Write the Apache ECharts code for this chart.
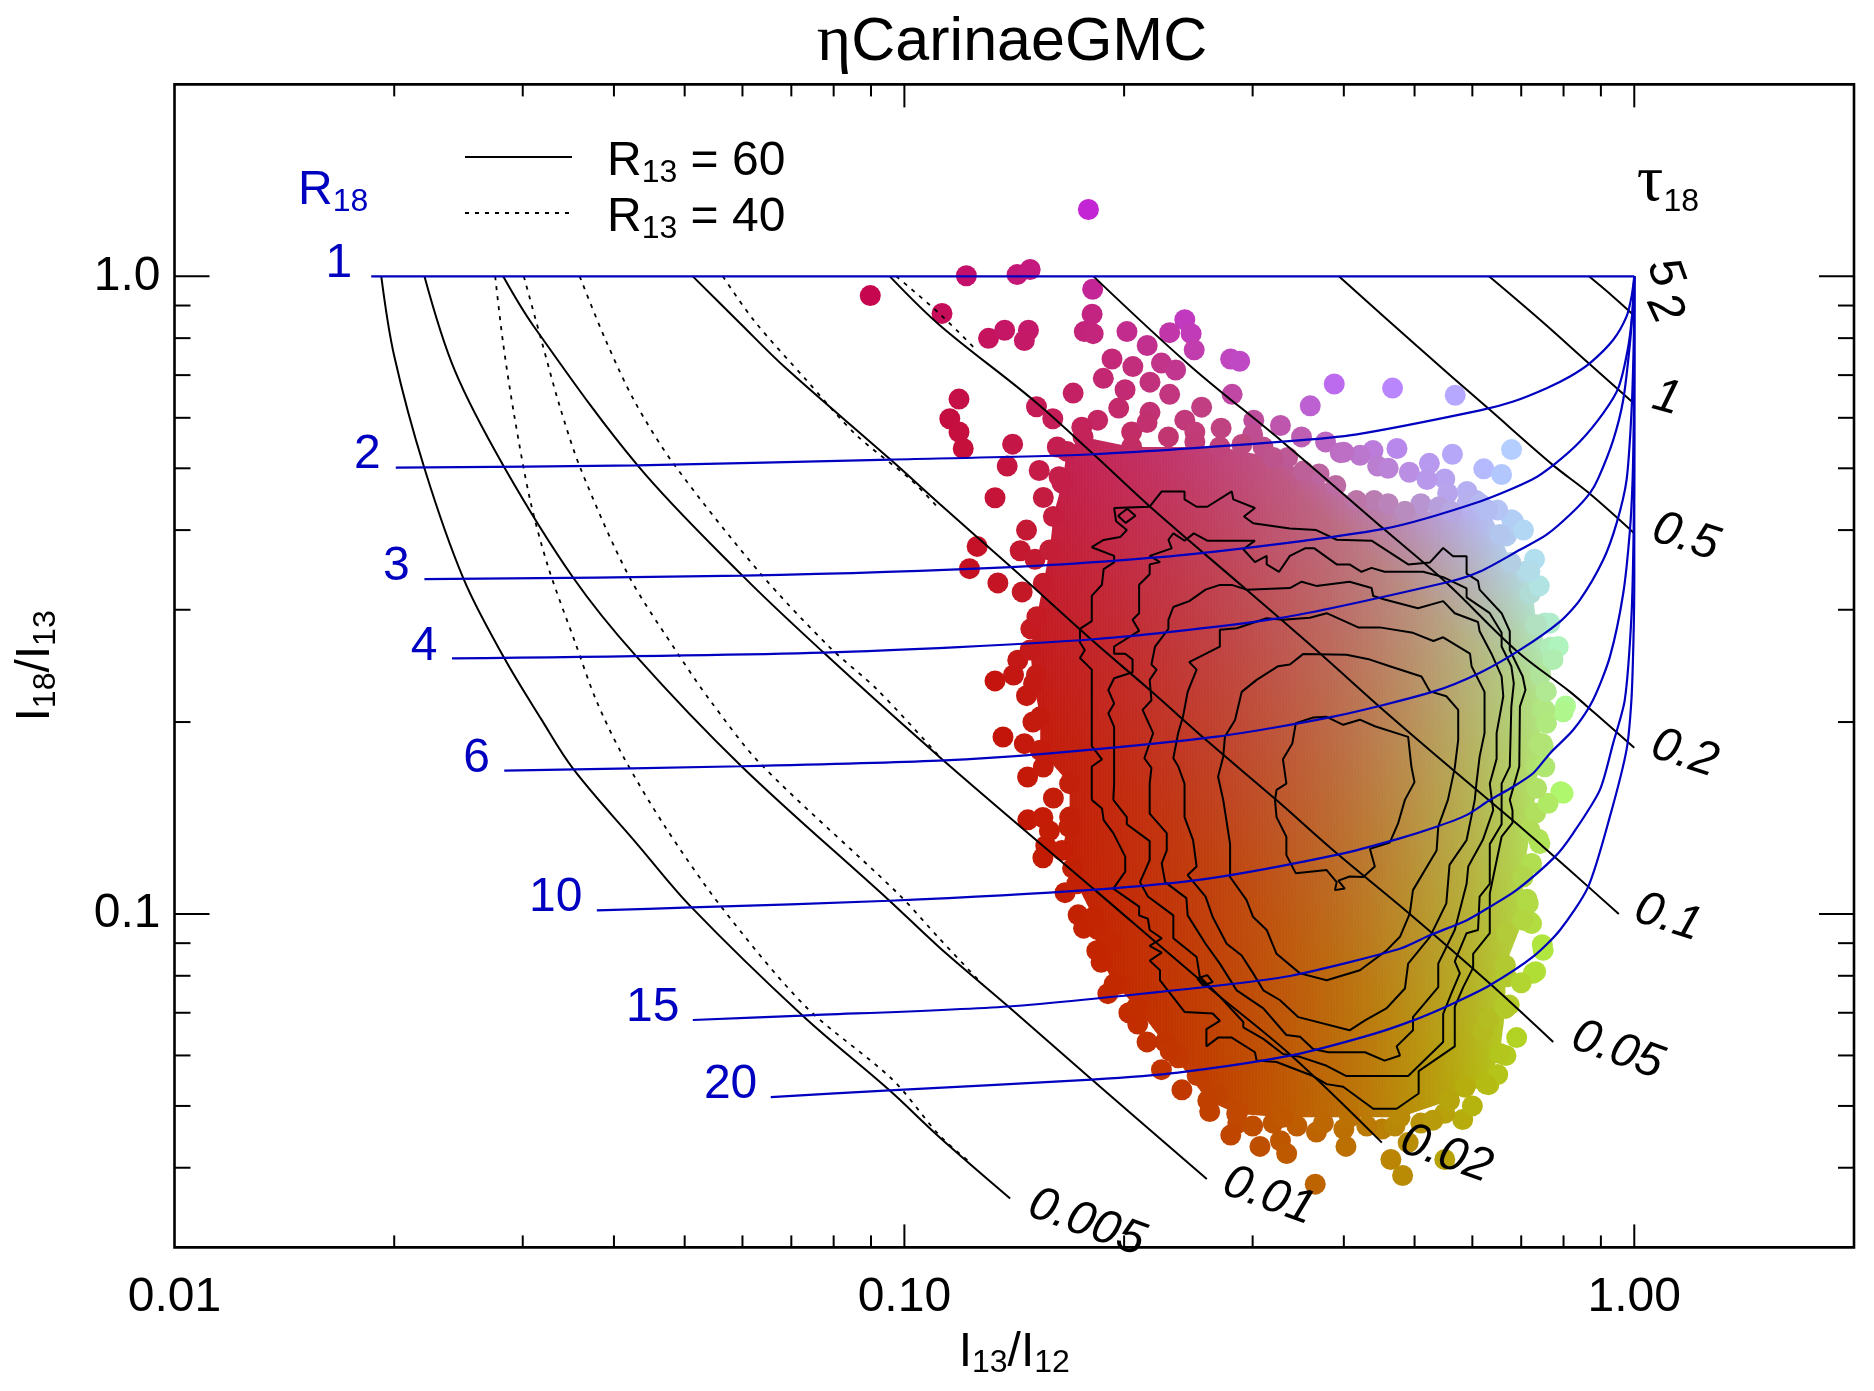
<!DOCTYPE html>
<html>
<head>
<meta charset="utf-8">
<title>eta Carinae GMC</title>
<script src="https://cdn.jsdelivr.net/npm/echarts@6/dist/echarts.min.js"></script>
<style>
body{margin:0;background:#fff;}
#main{width:1874px;height:1391px;}
</style>
</head>
<body>
<div id="main"></div>
<script>
// axis ranges and ticks
var xMin = 0.01, xMax = 2, yMin = 0.03, yMax = 2;
var xMajor = [0.1, 1];
var xMinor = [0.02,0.03,0.04,0.05,0.06,0.07,0.08,0.09,0.2,0.3,0.4,0.5,0.6,0.7,0.8,0.9];
var yMajor = [0.1, 1];
var yMinor = [0.04,0.05,0.06,0.07,0.08,0.09,0.2,0.3,0.4,0.5,0.6,0.7,0.8,0.9];
var xTickLabels = [[0.01,'0.01'],[0.1,'0.10'],[1,'1.00']];
var yTickLabels = [[0.1,'0.1'],[1,'1.0']];

// constant tau18, R13 = 60
var tau005 = [[.0192,1],[.0200,.75],[.0220,.50],[.0249,.335],[.0283,.252],[.0318,.2021],[.0352,.1687],[.0431,.1285],[.0511,.1024],[.0725,.0693],[.0954,.0529],[.1116,.0447],[.1396,.0358]];
var tau01 = [[.0220,1],[.0242,.7125],[.0283,.502],[.0352,.3365],[.0429,.2537],[.0598,.1705],[.0954,.1049],[.1116,.0887],[.1388,.0716],[.1806,.055],[.2596,.0384]];
var tau02 = [[.0282,1],[.031,.8375],[.0431,.5053],[.06,.3393],[.0775,.257],[.1119,.176],[.1823,.1091],[.2605,.0769],[.3388,.06],[.451,.0438]];
var tau05 = [[.0513,1],[.0595,.845],[.0686,.72],[.0957,.516],[.1119,.439],[.14,.350],[.1795,.2706],[.2169,.2245],[.2622,.1852],[.3234,.1509],[.3868,.1259],[.4925,.1],[.6339,.0778],[.7743,.063]];
var tau10 = [[.0955,1],[.1119,.8375],[.1497,.6415],[.1816,.526],[.2169,.4357],[.2943,.3224],[.3708,.2564],[.4529,.2089],[.5646,.1682],[.6896,.1387],[.75,.1275],[.8158,.1171],[.9524,.1]];
var tau20 = [[.1816,1],[.2462,.7244],[.3295,.5505],[.4535,.4018],[.5524,.331],[.692,.2578],[.8158,.2232],[.8835,.2064],[1,.1823]];
var tau50 = [[.3938,1],[.5029,.7787],[.63,.6214],[.7746,.5053],[.8668,.4572],[1,.3953]];
var tau100 = [[.6324,1],[.7461,.8508],[.8668,.7298],[1,.6314]];
var tau200 = [[.8668,1],[.9347,.93],[1,.8675]];

// constant tau18, R13 = 40
var dash005 = [[.0275,1],[.0282,.785],[.0292,.606],[.0307,.4463],[.0325,.3503],[.0354,.2664],[.0378,.2167],[.0411,.1774],[.0469,.1376],[.0562,.1024],[.0732,.0716],[.0963,.055],[.1116,.045],[.122,.0411]];
var dash01 = [[.0301,1],[.0319,.785],[.0337,.6264],[.036,.4996],[.0419,.3393],[.0492,.2537],[.0541,.2167],[.0635,.172],[.0982,.1074],[.1116,.0916],[.128,.0775]];
var dash02 = [[.0359,1],[.0389,.798],[.0427,.6365],[.0483,.5079],[.0635,.342],[.079,.262],[.0918,.2248],[.112,.176]];
var dash05 = [[.0564,1],[.0623,.851],[.0732,.69],[.0859,.564],[.102,.48],[.1116,.432]];
var dash10 = [[.0975,1],[.1116,.875],[.125,.77]];

// constant R18
var r1 = [[.0186,1],[1,1]];
var r2 = [[.0201,.5012],[.0431,.5053],[.0957,.516],[.1816,.526],[.3295,.5505],[.4169,.5653],[.6147,.6163],[.6827,.6364],[.7584,.6678],[.8164,.6966],[.8695,.731],[.9359,.7954],[.976,.8654],[.9916,.9302],[1,1]];
var r3 = [[.022,.335],[.06,.3393],[.14,.35],[.244,.366],[.4535,.4018],[.6147,.4436],[.7234,.4797],[.7786,.5082],[.8425,.5508],[.9068,.6104],[.9508,.6678],[.9813,.7764],[.9947,.8866],[1,1]];
var r4 = [[.024,.2517],[.0775,.257],[.1816,.2697],[.3263,.291],[.5524,.331],[.6147,.3444],[.6972,.3725],[.7584,.3934],[.825,.4278],[.8695,.4572],[.8928,.4825],[.9359,.5542],[.9658,.6404],[.9865,.7857],[.9968,.9192],[1,1]];
var r6 = [[.0283,.1678],[.0598,.1705],[.1116,.174],[.1582,.1786],[.2677,.1897],[.3868,.2039],[.5303,.2232],[.6147,.239],[.6972,.2595],[.7911,.2875],[.8425,.3109],[.9068,.3593],[.9458,.4102],[.976,.4797],[.9916,.6176],[.9985,.80],[1,1]];
var r10 = [[.0379,.1013],[.0511,.1024],[.0954,.1049],[.1806,.1091],[.2605,.1136],[.3938,.124],[.4774,.1314],[.5358,.137],[.5889,.1429],[.634,.1509],[.6823,.1583],[.7268,.1662],[.7663,.1786],[.8245,.1943],[.878,.2166],[.9261,.2533],[.9658,.3184],[.9865,.4005],[.9947,.4797],[.9985,.6],[1,.75],[1,1]];
var r15 = [[.0513,.0682],[.0725,.0693],[.1388,.0716],[.2605,.0769],[.3388,.08],[.4774,.0882],[.5247,.0926],[.5889,.0977],[.634,.1026],[.6895,.109],[.7783,.1229],[.8245,.1338],[.8969,.1564],[.9354,.1852],[.9705,.2166],[.9916,.2963],[.998,.40],[1,.55],[1,1]];
var r20 = [[.0656,.0516],[.0954,.0529],[.1806,.055],[.2371,.0564],[.3388,.06],[.4327,.0645],[.4979,.0681],[.5648,.0724],[.634,.0773],[.7268,.0857],[.7907,.0943],[.8645,.1103],[.9257,.142],[.9757,.1807],[.991,.2166],[.9975,.27],[1,.3342],[1,1]];

// density contours, inner to outer
var contourF = [[.3219,.1510],[.3235,.1419],[.3337,.1322],[.3337,.1237],[.3438,.1158],[.3789,.1172],[.3911,.1122],[.3890,.1090],[.4012,.1096],[.3931,.1128],[.4073,.1145],[.4253,.1143],[.4411,.1187],[.4344,.1265],[.4624,.1294],[.4750,.1390],[.4850,.1510],[.4999,.1610],[.4950,.1703],[.4900,.1896],[.4411,.1970],[.4208,.2017],[.3992,.1980],[.3789,.2038],[.3634,.2033],[.3438,.1992],[.3400,.1851],[.3301,.1748],[.3337,.1601],[.3235,.1565],[.3219,.1510]];
var contourE = [[.2734,.1510],[.2794,.1287],[.2794,.1143],[.2942,.1052],[.3005,.0989],[.3136,.0944],[.3235,.0866],[.3484,.0807],[.3789,.0787],[.4208,.0816],[.4574,.0876],[.4775,.0921],[.4925,.1001],[.4975,.1090],[.5360,.1258],[.5388,.1371],[.5555,.1510],[.5676,.1695],[.5738,.1875],[.5738,.2090],[.5527,.2195],[.5249,.2234],[.5110,.2358],[.4624,.2447],[.4344,.2506],[.4033,.2550],[.3520,.2558],[.3374,.2462],[.3252,.2447],[.3038,.2329],[.2898,.2230],[.2838,.2015],[.2749,.1898],[.2734,.1765],[.2690,.1642],[.2734,.1510]];
var contourD = [[.2420,.1510],[.2420,.1419],[.2486,.1306],[.2514,.1187],[.2444,.1151],[.2586,.1065],[.2645,.0989],[.2764,.0898],[.2898,.0861],[.3005,.0807],[.3103,.0759],[.3268,.0733],[.3466,.0689],[.4073,.0657],[.4276,.0681],[.4574,.0711],[.4850,.0764],[.4900,.0836],[.5249,.0921],[.5527,.1039],[.5583,.1194],[.5892,.1306],[.6046,.1510],[.6077,.1601],[.6139,.1765],[.6235,.1922],[.6235,.2230],[.5985,.2447],[.5955,.2560],[.5472,.2716],[.5305,.2680],[.4975,.2760],[.4479,.2815],[.4186,.2815],[.3789,.2963],[.3593,.2914],[.3301,.2893],[.3136,.2910],[.2853,.2806],[.2705,.2790],[.2705,.2627],[.2456,.2483],[.2514,.2417],[.2444,.2230],[.2408,.2038],[.2372,.1922],[.2336,.1755],[.2372,.1705],[.2420,.1601],[.2420,.1510]];
var contourC = [[.2168,.1510],[.2168,.1437],[.2288,.1339],[.2288,.1258],[.2252,.1201],[.2276,.1122],[.2434,.1059],[.2444,.0995],[.2586,.0898],[.2705,.0836],[.2853,.0759],[.3103,.0711],[.3337,.0646],[.3484,.0642],[.3630,.0614],[.3809,.0607],[.4276,.0607],[.4549,.0589],[.4775,.0600],[.4725,.0620],[.4975,.0657],[.4975,.0689],[.5388,.0768],[.5388,.0836],[.5676,.0944],[.5892,.1115],[.5923,.1187],[.6201,.1306],[.6408,.1455],[.6339,.1601],[.6477,.1751],[.6477,.1922],[.6615,.2195],[.6580,.2358],[.6373,.2560],[.6139,.2776],[.6108,.2870],[.5676,.2963],[.5472,.3095],[.5054,.3017],[.4549,.3113],[.4389,.3153],[.4366,.3245],[.4073,.3320],[.3667,.3270],[.3502,.3320],[.3374,.3245],[.2942,.3226],[.2809,.3282],[.2705,.3282],[.2586,.3226],[.2456,.3095],[.2336,.3030],[.2300,.2893],[.2300,.2800],[.2205,.2627],[.2180,.2461],[.2216,.2417],[.2168,.2329],[.2180,.2164],[.2120,.2090],[.2192,.1922],[.2132,.1755],[.2180,.1695],[.2168,.1601],[.2168,.1510]];
var contourB = [[.1933,.1510],[.2017,.1419],[.2017,.1383],[.2168,.1301],[.2168,.1215],[.2103,.1122],[.2156,.1065],[.2336,.0995],[.2336,.0916],[.2514,.0856],[.2540,.0797],[.2705,.0742],[.2913,.0677],[.2913,.0664],[.3103,.0637],[.3301,.0603],[.3484,.0597],[.3789,.0578],[.4033,.0557],[.4900,.0557],[.5472,.0630],[.5472,.0697],[.5614,.0750],[.5768,.0807],[.5676,.0843],[.5892,.0933],[.6108,.0944],[.6139,.1065],[.6339,.1115],[.6339,.1287],[.6580,.1383],[.6580,.1601],[.6752,.1703],[.6785,.2115],[.6838,.2299],[.6785,.2447],[.6580,.2627],[.6580,.2760],[.6339,.2963],[.5892,.3138],[.5892,.3240],[.5472,.3375],[.5137,.3441],[.4549,.3441],[.4366,.3490],[.4230,.3441],[.4073,.3534],[.3911,.3534],[.3645,.3745],[.3539,.3745],[.3374,.3645],[.3261,.3441],[.3136,.3534],[.3136,.3645],[.3022,.3563],[.2913,.3733],[.3022,.3850],[.2600,.3850],[.2492,.3953],[.2420,.3850],[.2336,.3953],[.2300,.3863],[.2324,.3745],[.2168,.3645],[.2240,.3563],[.2168,.3534],[.2168,.3410],[.2097,.3284],[.2097,.2963],[.2054,.2893],[.2097,.2780],[.1938,.2627],[.1938,.2560],[.2007,.2560],[.2054,.2506],[.2054,.2394],[.1938,.2343],[.1903,.2245],[.1938,.2139],[.1903,.2064],[.1938,.1965],[.1938,.1601],[.1933,.1510]];
var contourA = [[.1806,.1510],[.1865,.1464],[.1875,.1403],[.1933,.1339],[.2007,.1230],[.2007,.1165],[.1933,.1096],[.2097,.1027],[.2097,.0995],[.2156,.0983],[.2168,.0944],[.2252,.0916],[.2168,.0891],[.2252,.0870],[.2168,.0845],[.2240,.0816],[.2240,.0787],[.2420,.0702],[.2645,.0698],[.2705,.0680],[.2593,.0660],[.2593,.0620],[.2690,.0640],[.2809,.0640],[.3022,.0607],[.3038,.0589],[.3235,.0586],[.3630,.0557],[.3789,.0541],[.3992,.0536],[.4389,.0495],[.4725,.0495],[.5065,.0523],[.5065,.0567],[.5676,.0620],[.5676,.0715],[.5830,.0768],[.6015,.0824],[.6015,.0866],[.6339,.0933],[.6339,.1077],[.6580,.1322],[.6810,.1390],[.6810,.1455],[.6752,.1510],[.6957,.1703],[.6971,.2115],[.7094,.2245],[.7033,.2358],[.6752,.2594],[.6752,.2776],[.6580,.2963],[.6139,.3226],[.6108,.3330],[.5892,.3419],[.5892,.3639],[.5645,.3639],[.5472,.3750],[.5249,.3559],[.4900,.3534],[.4366,.3850],[.3911,.3863],[.3667,.4000],[.3374,.4024],[.3005,.4100],[.2919,.4201],[.3022,.4332],[.2822,.4470],[.2809,.4600],[.2600,.4352],[.2514,.4352],[.2420,.4470],[.2420,.4600],[.2252,.4600],[.2168,.4352],[.1938,.4332],[.1950,.4130],[.2017,.4000],[.1975,.3900],[.1875,.3860],[.1806,.3760],[.1938,.3645],[.1938,.3560],[.1875,.3475],[.1865,.3284],[.1806,.3155],[.1806,.2880],[.1740,.2800],[.1740,.2665],[.1767,.2594],[.1740,.2520],[.1806,.2417],[.1806,.1833],[.1865,.1748],[.1806,.1703],[.1806,.1510]];
var contourIslandTop = [[.1962,.4212],[.2020,.4320],[.2073,.4212],[.2010,.4105],[.1962,.4212]];
var contourIslandLow = [[.2519,.0792],[.2600,.0802],[.2645,.0782],[.2564,.0773],[.2519,.0792]];

// solid part of the point cloud
var blobOutline = [[.1670,.5315],[.1757,.5600],[.2048,.5400],[.2705,.5400],[.3202,.5200],[.3520,.4950],[.4163,.4450],[.4850,.4280],[.5611,.4280],[.6300,.4300],[.6545,.3938],[.6774,.3557],[.7194,.3448],[.7347,.2843],[.7737,.2505],[.7576,.2234],[.7400,.1852],[.7350,.1574],[.7200,.1352],[.7041,.1143],[.7041,.0978],[.6659,.0831],[.6659,.0711],[.6545,.0604],[.6270,.0541],[.5583,.0510],[.4775,.0480],[.4073,.0480],[.3301,.0480],[.2853,.0486],[.2604,.0510],[.2312,.0610],[.2081,.0715],[.1938,.0777],[.1835,.0876],[.1815,.0989],[.1722,.1115],[.1644,.1258],[.1684,.1419],[.1684,.1601],[.1535,.1806],[.1535,.2038],[.1503,.2299],[.1487,.2594],[.1519,.2926],[.1550,.3301],[.1582,.3724],[.1600,.4201],[.1644,.4740]];
// separate points around it
var rimDots = [[.1787,1.273],[.1216,1.002],[.1427,1.0065],[.1487,1.025],[.1811,.9545],[.1808,.872],[.1764,.8192],[.1814,.813],[.1126,.8747],[.0898,.933],[.1304,.7995],[.1372,.823],[.1479,.823],[.146,.793],[.2422,.855],[.2309,.816],[.2471,.813],[.2495,.767],[.2018,.8192],[.2151,.779],[.2799,.742],[.288,.736],[.1925,.742],[.2056,.722],[.225,.731],[.2353,.713],[.1873,.692],[.217,.6825],[.2309,.653],[.1703,.656],[.1188,.642],[.2006,.664],[.1966,.6215],[.1517,.6245],[.1597,.598],[.1154,.598],[.1188,.57],[.1204,.537],[.1407,.5455],[.217,.612],[.2554,.6235],[.2812,.653],[.3881,.678],[.4665,.668],[.5684,.651],[.3598,.6265],[.3011,.595],[.3275,.5835],[.2422,.595],[.2716,.578],[.184,.595],[.2048,.57],[.1383,.504],[.153,.496],[.1629,.485],[.1331,.4495],[.1258,.3771],[.1228,.348],[.1343,.3305],[.1441,.3713],[.3776,.55],[.3955,.529],[.4385,.533],[.473,.537],[.5239,.509],[.5634,.526],[.679,.535],[.622,.499],[.658,.489],[.4918,.493],[.55,.481],[.683,.413],[.739,.3265],[.755,.286],[.768,.262],[.6071,.445],[.555,.457],[.445,.504],[.421,.524],[.668,.3917],[.712,.345],[.7201,.318],[.7326,.2835],[.744,.237],[.1331,.232],[.1411,.237],[.1517,.237],
  [.1365,.1895],[.1475,.164],[.1476,.1405],[.1548,.1417],[.168,.137],[.1562,.128],[.1548,.1225],[.173,.0997],[.184,.0945],[.1917,.09],[.1966,.0776],[.2088,.0672],[.2276,.063],[.2373,.0595],[.2518,.0558],[.269,.0521],[.2863,.049],[.2863,.047],[.307,.0432],[.3275,.0441],[.334,.0421],[.3669,.0455],[.4027,.0432],[.4514,.046],[.464,.0412],[.4815,.0389],[.3655,.0377],[.49,.0438],[.55,.0412],[.582,.0476],[.55,.0487],[.632,.054],[.5863,.0535],[.667,.06],[.62,.0655],[.674,.072],[.632,.0685],[.7326,.0812],[.748,.0895],[.72,.0972],[.713,.1055],[.668,.0932],[.739,.131],[.7932,.1555],[.805,.212],[.748,.21],[.748,.1849],[.7326,.171],[.7326,.144],
  [.799,.2076],[.7541,.2089],[.7581,.1991],[.7502,.183],[.7541,.1702],[.799,.1546],[.762,.1491],[.7424,.129],[.7232,.12],[.7156,.1038],[.7232,.0966],[.7502,.0877],[.7268,.0807],[.668,.0797],[.6645,.0715],[.741,.3271],[.7868,.2627],[.7666,.2858],[.6792,.4151]];
// more points on the left, lower and top edge of the cloud
var edgeDots = [[.155,.45],[.147,.40],[.151,.36],[.145,.32],[.149,.28],[.143,.25],[.147,.22],[.150,.20],[.146,.185],[.155,.17],[.160,.152],[.158,.135],[.170,.118],[.166,.108],[.176,.095],[.186,.084],[.190,.075],[.203,.070],[.215,.063],[.225,.057],[.240,.053],[.262,.049],[.280,.045],[.300,.0465],[.320,.047],[.345,.0465],[.375,.047],[.400,.046],[.430,.0465],[.470,.0465],[.510,.047],[.530,.0475],[.600,.050],[.650,.056],[.690,.064],[.700,.078],[.730,.36],[.705,.40],[.650,.43],[.590,.46],[.520,.48],[.460,.50],[.400,.53],[.350,.56],[.300,.565],[.250,.57],[.215,.59],[.175,.58],[.162,.54],
  [.23,.56],[.25,.55],[.29,.545],[.31,.54],[.335,.52],[.37,.49],[.39,.47],[.44,.445],[.46,.44],[.51,.44],[.54,.435],[.59,.44],[.615,.44]];

// label texts and where they sit
var rLabels = ['1','2','3','4','6','10','15','20'];
var rLabelPos = [[.0168,1.048],[.01838,.525],[.02013,.350],[.02197,.2620],[.02594,.1753],[.03328,.1062],[.0452,.0713],[.0578,.0539]];
var tauLabels = ['5','2','1','0.5','0.2','0.1','0.05','0.02','0.01','0.005'];
var tauLabelPos = [[1.10,1.013],[1.10,.8898],[1.107,.6437],[1.176,.3899],[1.172,.1784],[1.112,.0987],[.9484,.0611],[.5524,.0420],[.3156,.0361],[.1777,.0328]];
var tauLabelAngle = [-70,-65,-15,-18,-18,-18,-20,-20,-20,-20];
var headPos = [[.0165,1.36],[1.112,1.359]];

var FONT = '"Liberation Sans", Arial, sans-serif';
var BLACK = '#000', BLUE = '#0000c0';

// colour of the cloud: green follows x, blue follows x*y, red drops a little with x
var blueLog = [-1.8,-1.5,-1.22,-1,-.8,-.6,-.5,-.3];
var blueVal = [0,15,55,90,130,235,255,255];

function redAt(x){ return Math.round(201-33*x); }
function greenAt(x){ return Math.max(0,Math.min(255,Math.round(340*x-25))); }
function blueAt(lg){
    if(lg<=blueLog[0]) return 0;
    for(var i=1;i<blueLog.length;i++){
        if(lg<=blueLog[i]){
            return Math.round(blueVal[i-1]+(blueVal[i]-blueVal[i-1])*(lg-blueLog[i-1])/(blueLog[i]-blueLog[i-1]));
        }
    }
    return 255;
}
function dotColor(params){
    var v = params.value;
    return 'rgb('+redAt(v[0])+','+greenAt(v[0])+','+blueAt(Math.log10(v[0]*v[1]))+')';
}

// the solid part is painted as thin columns, each with its own vertical colour ramp, clipped to the outline
function renderBlob(params, api){
    if(params.dataIndex !== 0) return;
    var pts = blobOutline.map(function(p){ return api.coord(p); });
    var one = api.coord([1,1]);
    var pxX = one[0]-api.coord([.1,1])[0];
    var pxY = api.coord([1,.1])[1]-one[1];
    var left = api.coord([.14,1])[0], right = api.coord([.82,1])[0];
    var top = api.coord([1,.62])[1], bottom = api.coord([1,.045])[1];
    var step = 3, cols = [];
    var span = blueLog[blueLog.length-1]-blueLog[0];
    for(var px=left;px<right;px+=step){
        var lx = (px+step/2-one[0])/pxX;
        var xv = Math.pow(10,lx);
        var rgb = redAt(xv)+','+greenAt(xv)+',';
        var y0 = one[1]-(blueLog[0]-lx)*pxY;
        var y1 = one[1]-(blueLog[blueLog.length-1]-lx)*pxY;
        var stops = blueLog.map(function(l,i){
            return {offset:(l-blueLog[0])/span,color:'rgb('+rgb+blueVal[i]+')'};
        });
        cols.push({type:'rect',shape:{x:px,y:top,width:step+.6,height:bottom-top},
            style:{fill:new echarts.graphic.LinearGradient(0,y0,0,y1,stops,true)}});
    }
    return {type:'group',clipPath:{type:'polygon',shape:{points:pts}},children:cols};
}

// tick marks: point on the frame plus an offset in pixels
var tickData = [];
xMajor.forEach(function(v){ tickData.push([v,yMin,0,-23],[v,yMax,0,23]); });
xMinor.forEach(function(v){ tickData.push([v,yMin,0,-12],[v,yMax,0,12]); });
yMajor.forEach(function(v){ tickData.push([xMin,v,35,0],[xMax,v,-35,0]); });
yMinor.forEach(function(v){ tickData.push([xMin,v,16,0],[xMax,v,-16,0]); });

function renderTick(params, api){
    var p = api.coord([api.value(0),api.value(1)]);
    return {type:'line',shape:{x1:p[0],y1:p[1],x2:p[0]+api.value(2),y2:p[1]+api.value(3)},style:{stroke:BLACK,lineWidth:2}};
}

var subRich = {
    r:{fontFamily:FONT,fontSize:48,color:BLACK},
    s:{fontFamily:FONT,fontSize:32,color:BLACK,padding:[22,0,0,0]},
    lr:{fontFamily:FONT,fontSize:48,color:BLACK,padding:[10,0,0,0]},
    ls:{fontFamily:FONT,fontSize:32,color:BLACK,padding:[32,0,0,0]},
    br:{fontFamily:FONT,fontSize:48,color:BLUE},
    bs:{fontFamily:FONT,fontSize:32,color:BLUE,padding:[22,0,0,0]},
    t:{fontFamily:'"Liberation Serif", serif',fontSize:66,color:BLACK,padding:[0,0,18,0]},
    gap:{width:30}
};

function textItem(pos, text, angle, font, color){
    return {type:'text',x:pos[0],y:pos[1],rotation:(angle||0)*Math.PI/180,
        style:{text:text,font:font,fill:color,align:'center',verticalAlign:'middle',rich:subRich}};
}

function curve(name, data, color, width, dash, smooth, z){
    return {name:name,type:'line',data:data,symbol:'none',smooth:smooth,z:z,silent:true,animation:false,
        lineStyle:{color:color,width:width,type:dash?[4,6]:'solid'},itemStyle:{color:color}};
}

var series = [];
series.push({type:'custom',name:'cloud',data:blobOutline,renderItem:renderBlob,z:1,silent:true,clip:false});
series.push({type:'scatter',name:'points',data:rimDots.concat(edgeDots,blobOutline),symbolSize:21,z:2,silent:true,animation:false,
    itemStyle:{color:dotColor,opacity:1}});

[contourA,contourB,contourC,contourD,contourE,contourF,contourIslandTop,contourIslandLow].forEach(function(c){
    series.push(curve('contour',c,BLACK,2,false,false,3));
});
[dash005,dash01,dash02,dash05,dash10].forEach(function(c){
    series.push(curve('R13 = 40',c,BLACK,1.8,true,0.3,4));
});
[tau005,tau01,tau02,tau05,tau10,tau20,tau50,tau100,tau200].forEach(function(c){
    series.push(curve('R13 = 60',c,BLACK,2,false,0.35,4));
});
[r1,r2,r3,r4,r6,r10,r15,r20].forEach(function(c){
    series.push(curve('R18',c,BLUE,2.2,false,0.25,5));
});

series.push({type:'custom',name:'ticks',data:tickData,renderItem:renderTick,z:6,silent:true,clip:false});
series.push({type:'custom',name:'rLabels',data:rLabelPos,z:7,silent:true,clip:false,
    renderItem:function(params,api){
        return textItem(api.coord(rLabelPos[params.dataIndex]),rLabels[params.dataIndex],0,'48px '+FONT,BLUE);
    }});
series.push({type:'custom',name:'tauLabels',data:tauLabelPos,z:7,silent:true,clip:false,
    renderItem:function(params,api){
        return textItem(api.coord(tauLabelPos[params.dataIndex]),tauLabels[params.dataIndex],tauLabelAngle[params.dataIndex],'italic 48px '+FONT,BLACK);
    }});
series.push({type:'custom',name:'heads',data:headPos,z:7,silent:true,clip:false,
    renderItem:function(params,api){
        var text = params.dataIndex === 0 ? '{br|R}{bs|18}' : '{t|τ}{s|18}';
        return textItem(api.coord(headPos[params.dataIndex]),text,0,'48px '+FONT,params.dataIndex === 0 ? BLUE : BLACK);
    }});

function tickLabel(list){
    return function(value){
        for(var i=0;i<list.length;i++){
            if(Math.abs(Math.log10(value)-Math.log10(list[i][0]))<1e-6) return list[i][1];
        }
        return '';
    };
}

var myChart = echarts.init(document.getElementById('main'),null,{renderer:'canvas'});
myChart.setOption({
    animation:false,
    backgroundColor:'#fff',
    title:{
        text:'{e|η}{m|CarinaeGMC}',left:1007,top:5,textAlign:'center',
        textStyle:{fontWeight:'normal',rich:{
            e:{fontFamily:'"Liberation Serif", serif',fontSize:66,color:BLACK,fontWeight:'normal'},
            m:{fontFamily:FONT,fontSize:61,color:BLACK,fontWeight:'normal'}
        }}
    },
    legend:{
        data:['R13 = 60','R13 = 40'],orient:'vertical',left:464,top:138,padding:0,itemWidth:107,itemHeight:2,itemGap:5,
        selectedMode:false,
        formatter:function(name){
            return '{gap|}{lr|R}{ls|13}{lr|'+name.substring(3)+'}';
        },
        textStyle:{rich:subRich}
    },
    grid:{left:174.5,right:20,top:84.4,bottom:143.6,show:true,borderColor:BLACK,borderWidth:2.6,backgroundColor:'transparent'},
    xAxis:{
        type:'log',logBase:10,min:xMin,max:xMax,
        axisLine:{show:false},axisTick:{show:false},splitLine:{show:false},minorTick:{show:false},minorSplitLine:{show:false},
        axisLabel:{show:true,fontFamily:FONT,fontSize:48,color:BLACK,margin:26,formatter:tickLabel(xTickLabels),hideOverlap:false,showMinLabel:true},
        name:'{r|I}{s|13}{r|/I}{s|12}',nameLocation:'middle',nameGap:78,
        nameTextStyle:{rich:subRich}
    },
    yAxis:{
        type:'log',logBase:10,min:yMin,max:yMax,
        axisLine:{show:false},axisTick:{show:false},splitLine:{show:false},minorTick:{show:false},minorSplitLine:{show:false},
        axisLabel:{show:true,fontFamily:FONT,fontSize:48,color:BLACK,margin:14,padding:[7,0,0,0],formatter:tickLabel(yTickLabels),hideOverlap:false},
        name:'{r|I}{s|18}{r|/I}{s|13}',nameLocation:'middle',nameGap:112,nameRotate:90,
        nameTextStyle:{rich:subRich}
    },
    series:series
});
</script>
</body>
</html>
